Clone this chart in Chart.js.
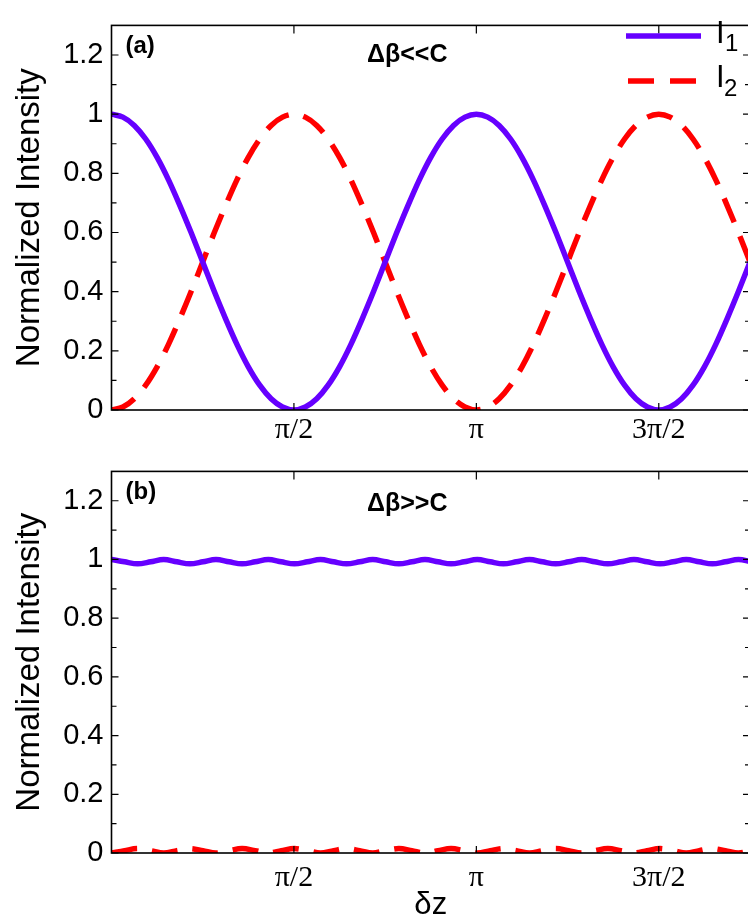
<!DOCTYPE html>
<html>
<head>
<meta charset="utf-8">
<script src="https://cdn.jsdelivr.net/npm/chart.js@4/dist/chart.umd.min.js"></script>
<style>
  html, body { margin: 0; padding: 0; background: #fff; overflow: hidden; }
  #wrap { position: relative; width: 748px; height: 918px; overflow: hidden; }
  canvas { position: absolute; left: 0; }
  #chartA { top: 0; }
  #chartB { top: 446px; }
</style>
</head>
<body>
<div id="wrap">
  <canvas id="chartA" width="752" height="446"></canvas>
  <canvas id="chartB" width="752" height="480"></canvas>
</div>
<script>
// ---------- data (x in units of pi) ----------
const xTickVals = [0.5, 1, 1.5];
const xTickLabels = ['π/2', 'π', '3π/2'];
const yTickVals = [0, 0.2, 0.4, 0.6, 0.8, 1, 1.2];
const yMinorVals = [0.1, 0.3, 0.5, 0.7, 0.9, 1.1];

// panel (a): delta beta << C, sampled every pi/32
const xA = [0, 0.03125, 0.0625, 0.09375, 0.125, 0.15625, 0.1875, 0.21875, 0.25, 0.28125, 0.3125,
  0.34375, 0.375, 0.40625, 0.4375, 0.46875, 0.5, 0.53125, 0.5625, 0.59375, 0.625, 0.65625, 0.6875,
  0.71875, 0.75, 0.78125, 0.8125, 0.84375, 0.875, 0.90625, 0.9375, 0.96875, 1, 1.03125, 1.0625,
  1.09375, 1.125, 1.15625, 1.1875, 1.21875, 1.25, 1.28125, 1.3125, 1.34375, 1.375, 1.40625, 1.4375,
  1.46875, 1.5, 1.53125, 1.5625, 1.59375, 1.625, 1.65625, 1.6875, 1.71875, 1.75];
const i1A = [1, 0.990, 0.962, 0.916, 0.854, 0.778, 0.691, 0.598, 0.5, 0.402, 0.309, 0.222, 0.146,
  0.084, 0.038, 0.010, 0, 0.010, 0.038, 0.084, 0.146, 0.222, 0.309, 0.402, 0.5, 0.598, 0.691,
  0.778, 0.854, 0.916, 0.962, 0.990, 1, 0.990, 0.962, 0.916, 0.854, 0.778, 0.691, 0.598, 0.5,
  0.402, 0.309, 0.222, 0.146, 0.084, 0.038, 0.010, 0, 0.010, 0.038, 0.084, 0.146, 0.222, 0.309,
  0.402, 0.5];
const i2A = [0, 0.010, 0.038, 0.084, 0.146, 0.222, 0.309, 0.402, 0.5, 0.598, 0.691, 0.778, 0.854,
  0.916, 0.962, 0.990, 1, 0.990, 0.962, 0.916, 0.854, 0.778, 0.691, 0.598, 0.5, 0.402, 0.309,
  0.222, 0.146, 0.084, 0.038, 0.010, 0, 0.010, 0.038, 0.084, 0.146, 0.222, 0.309, 0.402, 0.5,
  0.598, 0.691, 0.778, 0.854, 0.916, 0.962, 0.990, 1, 0.990, 0.962, 0.916, 0.854, 0.778, 0.691,
  0.598, 0.5];

// panel (b): delta beta >> C
const xB = [0, 0.0358, 0.0716, 0.1074, 0.1432, 0.179, 0.2148, 0.2506, 0.2864, 0.3222, 0.358, 0.3938,
  0.4296, 0.4654, 0.5012, 0.537, 0.5728, 0.6086, 0.6444, 0.6802, 0.716, 0.7518, 0.7876, 0.8234,
  0.8592, 0.895, 0.9308, 0.9666, 1.0024, 1.0382, 1.074, 1.1098, 1.1456, 1.1814, 1.2172, 1.253,
  1.2888, 1.3246, 1.3604, 1.3962, 1.432, 1.4678, 1.5036, 1.5394, 1.5752, 1.611, 1.6468, 1.6826,
  1.7184, 1.7542];
const i1B = [1, 0.992, 0.985, 0.992, 1, 0.992, 0.985, 0.992, 1, 0.992, 0.985, 0.992, 1,
  0.992, 0.985, 0.992, 1, 0.992, 0.985, 0.992, 1, 0.992, 0.985, 0.992, 1, 0.992, 0.985,
  0.992, 1, 0.992, 0.985, 0.992, 1, 0.992, 0.985, 0.992, 1, 0.992, 0.985, 0.992, 1,
  0.992, 0.985, 0.992, 1, 0.992, 0.985, 0.992, 1, 0.992];
const i2B = [0, 0.008, 0.015, 0.008, 0, 0.008, 0.015, 0.008, 0, 0.008, 0.015, 0.008, 0,
  0.008, 0.015, 0.008, 0, 0.008, 0.015, 0.008, 0, 0.008, 0.015, 0.008, 0, 0.008, 0.015,
  0.008, 0, 0.008, 0.015, 0.008, 0, 0.008, 0.015, 0.008, 0, 0.008, 0.015, 0.008, 0,
  0.008, 0.015, 0.008, 0, 0.008, 0.015, 0.008, 0, 0.008];

const purple = '#6600ff';
const red = '#ff0000';
const sans = "'Liberation Sans', Arial, sans-serif";
const serif = "'Liberation Serif', 'Times New Roman', serif";
const dash = [26, 15];

// frame with inward ticks, panel label, note and legend
const framePlugin = {
  id: 'frame',
  afterDatasetsDraw(chart, args, opts) {
    const {ctx, chartArea: a, scales: {x, y}} = chart;
    ctx.save();
    ctx.strokeStyle = '#000';
    ctx.lineWidth = 1.6;
    ctx.strokeRect(a.left, a.top, a.right - a.left, a.bottom - a.top);
    ctx.lineWidth = 1.2;
    ctx.beginPath();
    yTickVals.forEach(v => {
      const py = y.getPixelForValue(v);
      ctx.moveTo(a.left, py); ctx.lineTo(a.left + 7, py);
      ctx.moveTo(a.right, py); ctx.lineTo(a.right - 7, py);
    });
    yMinorVals.forEach(v => {
      const py = y.getPixelForValue(v);
      ctx.moveTo(a.left, py); ctx.lineTo(a.left + 5, py);
      ctx.moveTo(a.right, py); ctx.lineTo(a.right - 5, py);
    });
    xTickVals.forEach(v => {
      const px = x.getPixelForValue(v);
      ctx.moveTo(px, a.top); ctx.lineTo(px, a.top + 8);
      ctx.moveTo(px, a.bottom); ctx.lineTo(px, a.bottom - 7);
    });
    ctx.stroke();

    ctx.fillStyle = '#000';
    ctx.textBaseline = 'alphabetic';
    ctx.textAlign = 'left';
    ctx.font = 'bold 24px ' + sans;
    ctx.fillText(opts.label, a.left + 14, a.top + 28);
    ctx.font = 'bold 25px ' + sans;
    ctx.fillText(opts.note, 367, a.top + opts.noteOffset);

    if (opts.legend) {
      ctx.lineWidth = 5.5;
      ctx.strokeStyle = purple;
      ctx.beginPath(); ctx.moveTo(626, 36); ctx.lineTo(701, 36); ctx.stroke();
      ctx.strokeStyle = red;
      ctx.setLineDash([26, 16]);
      ctx.beginPath(); ctx.moveTo(628, 81); ctx.lineTo(697, 81); ctx.stroke();
      ctx.setLineDash([]);
      ctx.font = '31px ' + sans;
      ctx.fillText('I', 716, 43);
      ctx.fillText('I', 716, 87);
      ctx.font = '24px ' + sans;
      ctx.fillText('1', 725, 51);
      ctx.fillText('2', 724, 96);
    }
    ctx.restore();
  }
};

function makePanel(id, xs, s1, s2, opts) {
  const ctx = document.getElementById(id).getContext('2d');
  return new Chart(ctx, {
    type: 'line',
    data: {
      datasets: [
        {
          label: 'I1',
          data: xs.map((v, i) => ({x: v, y: s1[i]})),
          borderColor: purple,
          borderWidth: 5.5,
          pointRadius: 0,
          cubicInterpolationMode: 'monotone',
          clip: 0
        },
        {
          label: 'I2',
          data: xs.map((v, i) => ({x: v, y: s2[i]})),
          borderColor: red,
          borderWidth: 5.5,
          borderDash: dash,
          pointRadius: 0,
          cubicInterpolationMode: 'monotone',
          clip: 0
        }
      ]
    },
    options: {
      responsive: false,
      animation: false,
      devicePixelRatio: 1,
      layout: {padding: {top: opts.padTop, right: 2, left: 0, bottom: 0}},
      plugins: {
        legend: {display: false},
        tooltip: {enabled: false},
        frame: opts.frame
      },
      scales: {
        x: {
          type: 'linear',
          min: 0,
          max: 1.75,
          afterBuildTicks: s => { s.ticks = xTickVals.map(v => ({value: v})); },
          afterFit: s => { s.height = opts.xHeight; },
          grid: {display: false, drawTicks: false},
          border: {display: false},
          ticks: {
            autoSkip: false,
            maxRotation: 0,
            padding: opts.xPad,
            color: '#000',
            font: {family: serif, size: 30},
            callback: v => xTickLabels[xTickVals.indexOf(v)]
          },
          title: {
            display: opts.xTitle,
            text: 'δz',
            color: '#000',
            font: {family: sans, size: 31, lineHeight: 1},
            padding: {top: 0, bottom: 5}
          }
        },
        y: {
          min: 0,
          max: 1.3,
          afterBuildTicks: s => { s.ticks = yTickVals.map(v => ({value: v})); },
          afterFit: s => { s.width = 111.5; },
          grid: {display: false, drawTicks: false},
          border: {display: false},
          ticks: {
            padding: 8,
            color: '#000',
            font: {family: sans, size: 29},
            callback: v => String(Math.round(v * 10) / 10)
          },
          title: {
            display: true,
            text: 'Normalized Intensity',
            color: '#000',
            font: {family: sans, size: 33},
            padding: {top: 10, bottom: 0}
          }
        }
      }
    },
    plugins: [framePlugin]
  });
}

makePanel('chartA', xA, i1A, i2A, {
  padTop: 16, xHeight: 36, xPad: 2, xTitle: false,
  frame: {label: '(a)', note: 'Δβ<<C', noteOffset: 37, legend: true}
});
makePanel('chartB', xB, i1B, i2B, {
  padTop: 13, xHeight: 73, xPad: 7, xTitle: true,
  frame: {label: '(b)', note: 'Δβ>>C', noteOffset: 40, legend: false}
});
</script>
</body>
</html>
